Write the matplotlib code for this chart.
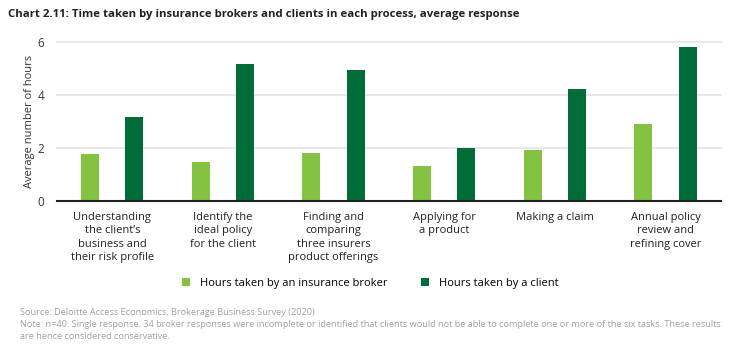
import matplotlib.pyplot as plt
import numpy as np

plt.rcParams['font.family'] = ['Open Sans', 'DejaVu Sans']

categories = [
    "Understanding\nthe client\u2019s\nbusiness and\ntheir risk profile",
    "Identify the\nideal policy\nfor the client",
    "Finding and\ncomparing\nthree insurers\nproduct offerings",
    "Applying for\na product",
    "Making a claim",
    "Annual policy\nreview and\nrefining cover",
]
broker_hours = [1.75, 1.45, 1.82, 1.33, 1.93, 2.9]
client_hours = [3.15, 5.15, 4.93, 2.01, 4.22, 5.82]
yticks = [0, 2, 4, 6]

light_green = "#84c341"
dark_green = "#006c37"

fig = plt.figure(figsize=(7.56, 3.58), dpi=100)
ax = fig.add_axes([0.0754, 0.4394, 0.878, 0.4433])

x = np.arange(len(categories))
w = 0.163
ax.bar(x - 0.2, broker_hours, w, color=light_green, label="Hours taken by an insurance broker", zorder=3)
ax.bar(x + 0.2, client_hours, w, color=dark_green, label="Hours taken by a client", zorder=3)

ax.set_xlim(-0.5, len(categories) - 0.5)
ax.set_ylim(0, 6)
ax.set_yticks(yticks)
ax.set_yticklabels([str(t) for t in yticks], fontsize=8.5, color="#333333")
ax.yaxis.grid(True, color="#e6e6e6", linewidth=1.3, zorder=0)
for gl in ax.get_ygridlines():
    gl.set_clip_on(False)
ax.set_xticks(x)
ax.set_xticklabels(categories, fontsize=8, color="#222222", linespacing=1.3, va="top")
ax.tick_params(axis="x", length=0, pad=8)
ax.tick_params(axis="y", length=0, pad=9)
for s in ["top", "right", "left"]:
    ax.spines[s].set_visible(False)
ax.spines["bottom"].set_color("#222222")
ax.spines["bottom"].set_linewidth(1.5)
ax.spines["bottom"].set_zorder(4)
ax.set_ylabel("Average number of hours", fontsize=8, color="#333333", labelpad=2)

fig.text(0.0106, 0.96, "Chart 2.11: Time taken by insurance brokers and clients in each process, average response",
         fontsize=8.2, fontweight="bold", color="#222222", va="center", ha="left")

fig.legend(loc="center", bbox_to_anchor=(0.49, 0.208), ncol=2, frameon=False, fontsize=8,
           handlelength=0.7, handleheight=0.7, columnspacing=3.0, handletextpad=0.9)

fig.text(0.026, 0.128, "Source: Deloitte Access Economics, Brokerage Business Survey (2020)",
         fontsize=6.6, color="#a0a0a0", va="center")
fig.text(0.026, 0.094, "Note: n=40. Single response. 34 broker responses were incomplete or identified that clients would not be able to complete one or more of the six tasks. These results",
         fontsize=6.6, color="#a0a0a0", va="center")
fig.text(0.026, 0.06, "are hence considered conservative.",
         fontsize=6.6, color="#a0a0a0", va="center")

fig.savefig("out.png", dpi=100)
